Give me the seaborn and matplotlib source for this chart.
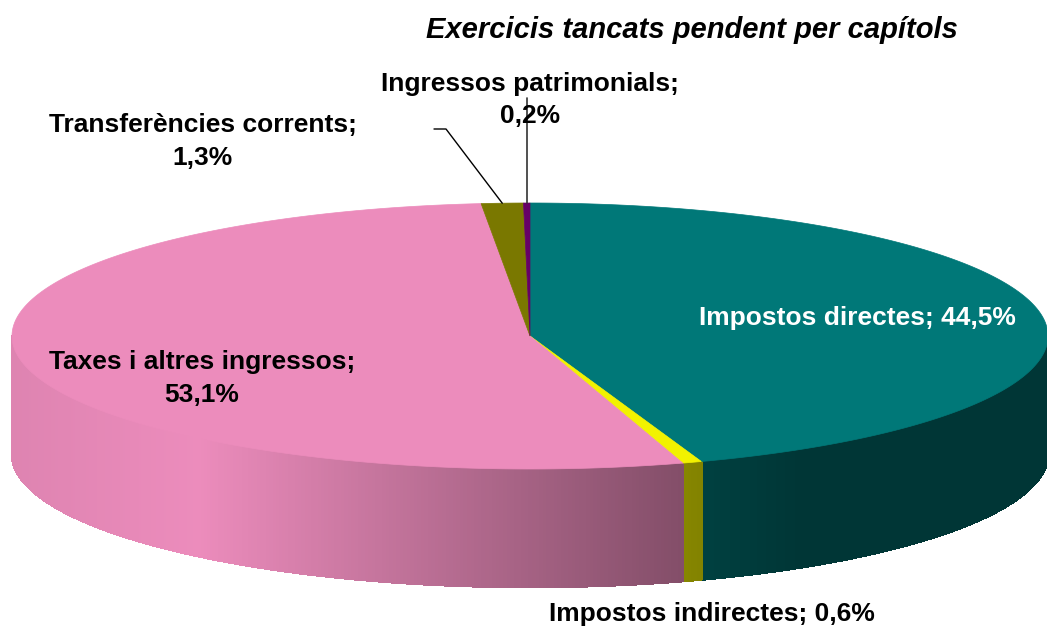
import numpy as np
import seaborn as sns
import matplotlib.pyplot as plt
from matplotlib.collections import PolyCollection

# Data
categories = ["Impostos directes", "Impostos indirectes", "Taxes i altres ingressos",
              "Transferències corrents", "Ingressos patrimonials"]
shares = [44.5, 0.6, 53.1, 1.3, 0.2]
top_colors = ["#007878", "#F2F200", "#EC8CBC", "#7A7800", "#660066"]

sns.set_theme(style="white")
plt.rcParams['font.family'] = ['Liberation Sans', 'DejaVu Sans']
plt.rcParams['text.color'] = 'black'

W, H = 1047, 634
fig = plt.figure(figsize=(W / 100, H / 100), dpi=100)
ax = fig.add_axes([0, 0, 1, 1])
ax.set_xlim(0, W)
ax.set_ylim(H, 0)
ax.axis('off')

# pie geometry (pixels)
cx, cy, a, b, depth = 530, 336, 518, 133, 118


def pt(t, dy=0):
    r = np.deg2rad(t)
    return cx + a * np.cos(r), cy - b * np.sin(r) + dy


def shade(x):
    f = 1 - 0.55 * np.clip((x - 200) / 600, 0, 1)
    f -= 0.06 * np.clip((200 - x) / 190, 0, 1)
    return f


palette = sns.color_palette(top_colors)
vals = np.array(shares, dtype=float)
frac = vals / vals.sum()
cum = np.concatenate([[0], np.cumsum(frac)])
t_start = 90 - 360 * cum[:-1]
t_end = 90 - 360 * cum[1:]

# side walls (front half only), thin strips for the gradient
polys, cols = [], []
for i in range(len(vals)):
    lo, hi = max(t_end[i], -180), min(t_start[i], 0)
    if hi <= lo:
        continue
    ts = np.linspace(lo, hi, max(2, int((hi - lo) / 0.4) + 2))
    for t1, t2 in zip(ts[:-1], ts[1:]):
        p1, p2 = pt(t1), pt(t2)
        q1, q2 = pt(t1, depth), pt(t2, depth)
        polys.append([p1, p2, q2, q1])
        xm = (p1[0] + p2[0]) / 2
        cols.append(np.clip(np.array(palette[i]) * shade(xm), 0, 1))
ax.add_collection(PolyCollection(polys, facecolors=cols, edgecolors=cols,
                                 linewidths=1.2, antialiased=False))

# top faces
for i in range(len(vals)):
    ts = np.linspace(t_start[i], t_end[i], max(3, int(abs(t_start[i] - t_end[i]) * 2)))
    verts = [(cx, cy)] + [pt(t) for t in ts]
    ax.add_patch(plt.Polygon(verts, closed=True, facecolor=palette[i],
                             edgecolor=palette[i], linewidth=0.5))

pct = [f"{v:.1f}".replace('.', ',') + "%" for v in shares]
kw = dict(fontsize=19, fontweight='bold', ha='center', va='center')

ax.text(692, 30, "Exercicis tancats pendent per capítols", fontsize=21,
        fontweight='bold', fontstyle='italic', ha='center', va='center')

ax.text(857, 318, f"{categories[0]}; {pct[0]}", color='white', **kw)
ax.text(712, 614, f"{categories[1]}; {pct[1]}", **kw)
ax.text(202, 362, f"{categories[2]};", **kw)
ax.text(202, 395, pct[2], **kw)
ax.text(203, 125, f"{categories[3]};", **kw)
ax.text(203, 158, pct[3], **kw)
ax.text(530, 84, f"{categories[4]};", **kw)
ax.text(530, 116, pct[4], **kw)

# leader lines
mid = (t_start + t_end) / 2
x3, y3 = pt(mid[3])
ax.plot([434, 446, x3], [129, 129, y3], color='black', lw=1)
x4, y4 = pt(mid[4])
ax.plot([x4, x4], [98, y4], color='#333333', lw=1.2)

fig.savefig("out.png", dpi=100)
